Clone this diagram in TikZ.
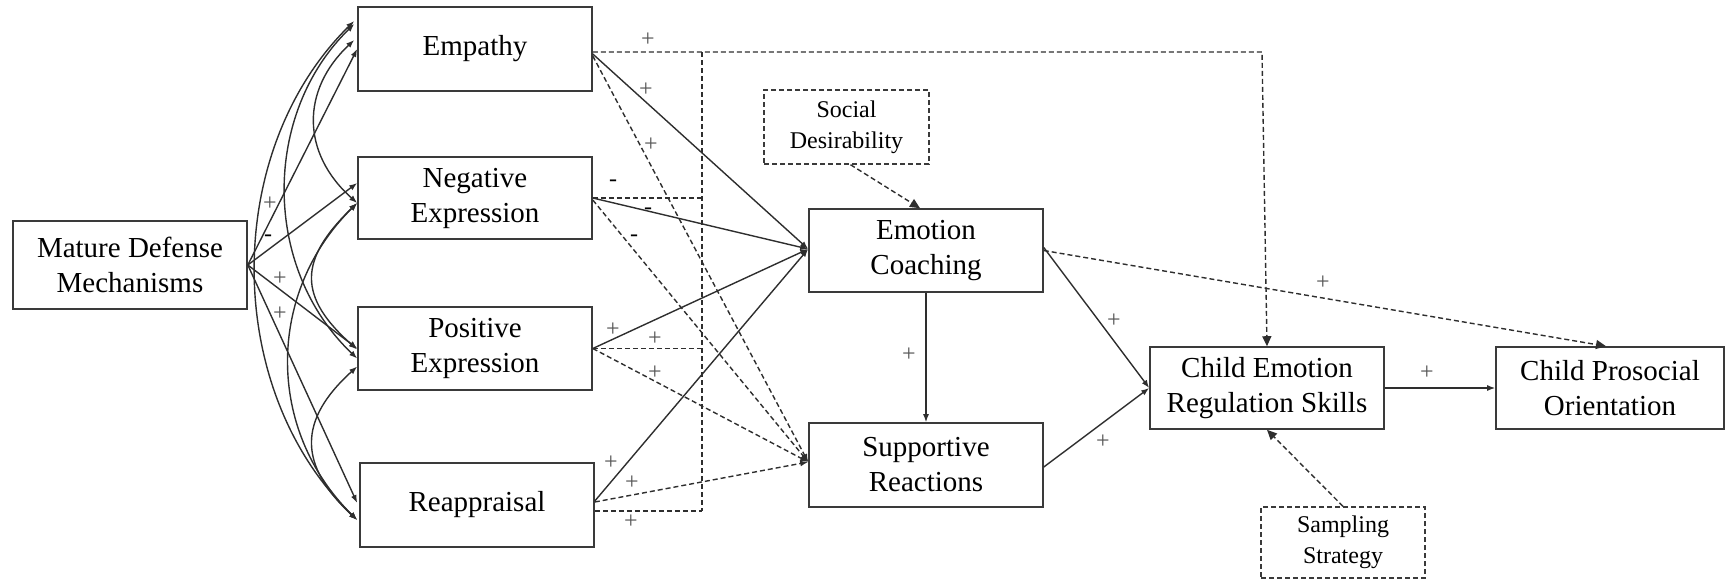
\documentclass[tikz,border=0pt]{standalone}
\usepackage{fontspec}
\setmainfont{Liberation Serif}
\newfontfamily\tnr{Liberation Serif}
\usetikzlibrary{arrows.meta,calc}
\definecolor{ln}{HTML}{2E2E2E}
\definecolor{bx}{HTML}{3A3A3A}
\definecolor{pl}{HTML}{555555}
\newcommand{\mainf}{\tnr\fontsize{14.5}{17.5}\selectfont}
\newcommand{\smallf}{\tnr\fontsize{12}{15.5}\selectfont}
\begin{document}
\begin{tikzpicture}[x=0.5pt,y=-0.5pt,
 box/.style={draw=bx,line width=0.8pt,minimum width=117pt,minimum height=42pt,inner sep=0pt,align=center,font=\mainf},
 dbox/.style={draw=bx,line width=0.7pt,dash pattern=on 2.5pt off 1.5pt,inner sep=0pt,align=center,font=\smallf},
 con/.style={draw=ln,line width=0.7pt},
 dsh/.style={con,dash pattern=on 2.5pt off 1.5pt},
 sarr/.style={-{Latex[length=4pt,width=3pt]}},
 barr/.style={-{Triangle[length=5pt,width=4.5pt]}},
 dbl/.style={{Latex[length=4pt,width=3pt]}-{Latex[length=4pt,width=3pt]}},
 lab/.style={font=\smallf,text=pl,inner sep=0pt},
 mlab/.style={font=\smallf,text=black,inner sep=0pt}]

\useasboundingbox (0,0) rectangle (1726,580);

% nodes
\node[box,minimum height=44pt] (mdm) at (130,265) {Mature Defense\\Mechanisms};
\node[box] (emp) at (475,49) {Empathy};
\node[box,minimum height=41pt] (neg) at (475,198) {Negative\\Expression};
\node[box,minimum height=41.5pt] (pos) at (475,348.5) {Positive\\Expression};
\node[box] (rea) at (477,505) {Reappraisal};
\node[box,minimum height=41.5pt] (ec) at (926,250.5) {Emotion\\Coaching};
\node[box] (sr) at (926,465) {Supportive\\Reactions};
\node[box,minimum height=41pt] (cer) at (1267,388) {Child Emotion\\Regulation Skills};
\node[box,minimum width=114pt,minimum height=41pt] (cpo) at (1610,388) {Child Prosocial\\Orientation};
\node[dbox,minimum width=82.5pt,minimum height=37pt] (sd) at (846.5,127) {Social\\Desirability};
\node[dbox,minimum width=82pt,minimum height=35.5pt] (ss) at (1343,542.5) {Sampling\\Strategy};

% MDM paths
\draw[con,sarr] (mdm.east) -- (emp.west);
\draw[con,sarr] (mdm.east) -- ($(neg.west)+(0,-15)$);
\draw[con,sarr] (mdm.east) -- (pos.west);
\draw[con,sarr] (mdm.east) -- ($(rea.west)+(-2,-2)$);

% covariances
\draw[con,dbl] ($(emp.west)+(-3,-28)$) .. controls (222,151) and (222,390) .. ($(rea.west)+(-2,15)$);
\draw[con,dbl] ($(emp.west)+(-3,-25)$) .. controls (262,114) and (262,268) .. ($(pos.west)+(0,10)$);
\draw[con,dbl] ($(emp.west)+(-3,-9)$) .. controls (301,90) and (301,153) .. ($(neg.west)+(0,5)$);
\draw[con,dbl] ($(neg.west)+(0,5)$) .. controls (266,293) and (266,430) .. ($(rea.west)+(-2,15)$);
\draw[con,dbl] ($(neg.west)+(0,5)$) .. controls (298,260) and (298,297) .. ($(pos.west)+(0,1)$);
\draw[con,dbl] ($(pos.west)+(0,18)$) .. controls (298,420) and (298,465) .. ($(rea.west)+(-2,15)$);

% bracket to child emotion regulation
\coordinate (brt) at (702,52);
\coordinate (brb) at (702,511);
\coordinate (crn) at (1262,52);
\draw[dsh,barr] ($(emp.east)+(0,3)$) -- (crn) -- (cer.north);
\draw[dsh] (brt) -- (brb);
\draw[dsh] (neg.east) -- (neg.east -| brt);
\draw[dsh] (pos.east) -- (pos.east -| brt);
\draw[dsh] ($(rea.east)+(0,6)$) -- (brb);

% to emotion coaching
\draw[con,sarr] ($(emp.east)+(0,5)$) -- ($(ec.west)+(0,-1.5)$);
\draw[con,sarr] (neg.east) -- ($(ec.west)+(0,-1.5)$);
\draw[con,sarr] (pos.east) -- ($(ec.west)+(0,-1.5)$);
\draw[con,sarr] ($(rea.east)+(0,-4)$) -- ($(ec.west)+(0,-1.5)$);

% to supportive reactions
\draw[dsh,sarr] ($(emp.east)+(0,7)$) -- ($(sr.west)+(0,-3)$);
\draw[dsh,sarr] ($(neg.east)+(0,2)$) -- ($(sr.west)+(0,-3)$);
\draw[dsh,sarr] (pos.east) -- ($(sr.west)+(0,-3)$);
\draw[dsh,sarr] ($(rea.east)+(0,-3)$) -- ($(sr.west)+(0,-3)$);

% others
\draw[dsh,barr] ($(sd.south)+(4,0)$) -- ($(ec.north)+(-6,0)$);
\draw[con,sarr] (ec.south) -- (sr.north);
\draw[con,sarr] ($(ec.east)+(0,-3)$) -- (cer.west);
\draw[con,sarr] ($(sr.east)+(0,2)$) -- (cer.west);
\draw[dsh,barr] (ec.east) -- ($(cpo.north)+(-4,0)$);
\draw[con,sarr] (cer.east) -- (cpo.west);
\draw[dsh,barr] (ss.north) -- (cer.south);

% labels
\node[lab] (l1) at (270,204) {+};
\node[mlab] (l2) at (268,238) {-};
\node[lab] (l3) at (280,279) {+};
\node[lab] (l4) at (280,314) {+};
\node[lab] (l5) at (648,40) {+};
\node[lab] (l6) at (646,90) {+};
\node[lab] (l7) at (651,145) {+};
\node[mlab] (l8) at (613,183) {-};
\node[mlab] (l9) at (648,211) {-};
\node[mlab] (l10) at (634,238) {-};
\node[lab] (l11) at (613,330) {+};
\node[lab] (l12) at (655,339) {+};
\node[lab] (l13) at (655,373) {+};
\node[lab] (l14) at (611,463) {+};
\node[lab] (l15) at (632,483) {+};
\node[lab] (l16) at (631,522) {+};
\node[lab] (l17) at (909,355) {+};
\node[lab] (l18) at (1114,321) {+};
\node[lab] (l19) at (1103,442) {+};
\node[lab] (l20) at (1323,283) {+};
\node[lab] (l21) at (1427,373) {+};
\end{tikzpicture}
\end{document}
